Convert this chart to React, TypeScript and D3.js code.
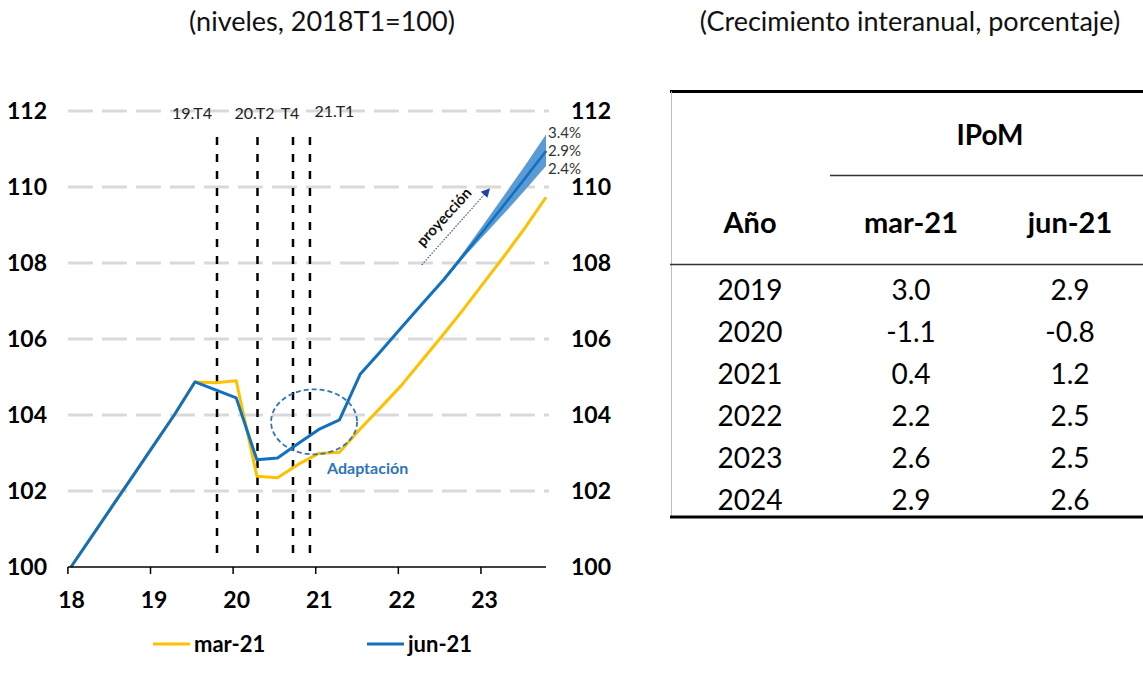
import React from 'react';
import * as d3 from 'd3';

// ---------- data ----------
const periods = [
  '2018T1', '2018T2', '2018T3', '2018T4',
  '2019T1', '2019T2', '2019T3', '2019T4',
  '2020T1', '2020T2', '2020T3', '2020T4',
  '2021T1', '2021T2', '2021T3', '2021T4',
  '2022T1', '2022T2', '2022T3', '2022T4',
  '2023T1', '2023T2', '2023T3', '2023T4',
];
const mar21 = [
  100.0, 100.8, 101.6, 102.4, 103.2, 104.0, 104.87, 104.85,
  104.9, 102.39, 102.35, 102.7, 102.99, 103.02, 103.63, 104.2,
  104.78, 105.44, 106.1, 106.78, 107.49, 108.2, 108.94, 109.73,
];
const jun21 = [
  100.0, 100.8, 101.6, 102.4, 103.2, 104.0, 104.87, 104.66,
  104.45, 102.82, 102.87, 103.25, 103.62, 103.87, 105.07, 105.68,
  106.3, 106.92, 107.53, 108.2, 108.87, 109.55, 110.24, 110.95,
];
const fanPeriods = ['2022T3', '2022T4', '2023T1', '2023T2', '2023T3', '2023T4'];
const fanUpper = [107.53, 108.28, 109.03, 109.8, 110.58, 111.38];
const fanLower = [107.53, 108.14, 108.73, 109.32, 109.93, 110.55];
const fanLabels = ['3.4%', '2.9%', '2.4%'];

const yTicks = [100, 102, 104, 106, 108, 110, 112];
const xTickLabels = ['18', '19', '20', '21', '22', '23'];

const markerLabels = ['19.T4', '20.T2', 'T4', '21.T1'];
const markerPos = [7.07, 9.03, 10.75, 11.57]; // in quarters since 2018T1

const seriesNames = ['mar-21', 'jun-21'];

const tableYears = ['2019', '2020', '2021', '2022', '2023', '2024'];
const tableMar = ['3.0', '-1.1', '0.4', '2.2', '2.6', '2.9'];
const tableJun = ['2.9', '-0.8', '1.2', '2.5', '2.5', '2.6'];

// ---------- styles ----------
const FONT = 'Lato, "Open Sans", sans-serif';
const YELLOW = '#FFC000';
const BLUE = '#1170C0';
const FAN = '#5B9BD5';
const ANNOT_BLUE = '#2E75B6';

export default function App() {
  const W = 1143;
  const H = 692;
  const x = d3.scaleLinear().domain([0, 23]).range([71, 546]);
  const y = d3.scaleLinear().domain([100, 112]).range([567, 111]);
  const idx = (p: string) => periods.indexOf(p);

  const line = d3
    .line<number>()
    .x((_, i) => x(i))
    .y((d) => y(d));

  const fanArea = d3
    .area<number>()
    .x((_, i) => x(idx(fanPeriods[i])))
    .y0((_, i) => y(fanLower[i]))
    .y1((d) => y(d));

  const fanCenter = fanPeriods.map((p) => jun21[idx(p)]);
  const fanLine = d3
    .line<number>()
    .x((_, i) => x(idx(fanPeriods[i])))
    .y((d) => y(d));

  const labelOffsets = [-25, -3, -3, 24.5];
  const labelY = [113, 113, 113, 111];

  // proyección arrow (data coords)
  const a0 = { x: x(16.98), y: y(107.95) };
  const a1 = { x: x(20.29), y: y(109.97) };
  const ang = Math.atan2(a1.y - a0.y, a1.x - a0.x);
  const headLen = 9;
  const headW = 4.5;
  const hx = a1.x - headLen * Math.cos(ang);
  const hy = a1.y - headLen * Math.sin(ang);
  const head = [
    [a1.x, a1.y],
    [hx + headW * Math.sin(ang), hy - headW * Math.cos(ang)],
    [hx - headW * Math.sin(ang), hy + headW * Math.cos(ang)],
  ];

  const xAxisStart = x(-0.15);
  const xAxisEnd = x(23);

  // table layout
  const tLeft = 670;
  const tRight = 1143;
  const colX = [750, 911, 1070];
  const rowY0 = 290;
  const rowStep = 42.1;

  return (
    <div style={{ position: 'absolute', left: 0, top: 0 }}>
      <svg width={W} height={H} style={{ display: 'block', background: '#fff' }} fontFamily={FONT}>
        {/* titles */}
        <text x={322} y={22} textAnchor="middle" dy="0.35em" fontSize={27} fill="#111">
          (niveles, 2018T1=100)
        </text>
        <text x={910} y={22} textAnchor="middle" dy="0.35em" fontSize={27} fill="#111">
          (Crecimiento interanual, porcentaje)
        </text>

        {/* gridlines */}
        {yTicks
          .filter((t) => t > 100)
          .map((t) => (
            <line
              key={'g' + t}
              x1={xAxisStart}
              x2={549}
              y1={y(t)}
              y2={y(t)}
              stroke="#D9D9D9"
              strokeWidth={3}
              strokeDasharray="25,9"
            />
          ))}

        {/* y labels left & right */}
        {yTicks.map((t) => (
          <g key={'yl' + t}>
            <text x={47} y={y(t)} dy="0.35em" textAnchor="end" fontSize={23} fontWeight="bold" fill="#000">
              {t}
            </text>
            <text x={571} y={y(t)} dy="0.35em" textAnchor="start" fontSize={23} fontWeight="bold" fill="#000">
              {t}
            </text>
          </g>
        ))}

        {/* vertical markers */}
        {markerPos.map((m, i) => (
          <g key={'m' + i}>
            <line
              x1={x(m)}
              x2={x(m)}
              y1={137}
              y2={559}
              stroke="#000"
              strokeWidth={2.5}
              strokeDasharray="8,9"
            />
            <text
              x={x(m) + labelOffsets[i]}
              y={labelY[i]}
              dy="0.35em"
              textAnchor="middle"
              fontSize={16}
              fill="#222"
            >
              {markerLabels[i]}
            </text>
          </g>
        ))}

        {/* series */}
        <path d={line(mar21) || ''} fill="none" stroke={YELLOW} strokeWidth={3} strokeLinejoin="round" />
        <path d={line(jun21) || ''} fill="none" stroke={BLUE} strokeWidth={3} strokeLinejoin="round" />
        <path d={fanArea(fanUpper) || ''} fill={FAN} stroke="none" />
        <path d={fanLine(fanCenter) || ''} fill="none" stroke={BLUE} strokeWidth={2.5} />

        {/* fan labels */}
        {fanLabels.map((l, i) => (
          <text key={l} x={548} y={133 + i * 18} dy="0.35em" fontSize={15} fill="#333">
            {l}
          </text>
        ))}

        {/* proyección annotation */}
        <line
          x1={a0.x}
          y1={a0.y}
          x2={hx}
          y2={hy}
          stroke="#2346A8"
          strokeWidth={1.1}
          strokeDasharray="1.5,1.5"
        />
        <polygon points={head.map((p) => p.join(',')).join(' ')} fill="#1F44AA" />
        <text
          transform={`translate(444,217) rotate(-47.6)`}
          textAnchor="middle"
          dy="0.35em"
          fontSize={15}
          fontWeight="bold"
          fill="#111"
        >
          proyección
        </text>

        {/* adaptación */}
        <ellipse
          cx={x(11.77)}
          cy={y(103.82)}
          rx={43}
          ry={32.5}
          fill="none"
          stroke={ANNOT_BLUE}
          strokeWidth={1.8}
          strokeDasharray="5,3"
        />
        <text x={327} y={468} dy="0.35em" fontSize={16} fontWeight="bold" fill={ANNOT_BLUE}>
          Adaptación
        </text>

        {/* x axis */}
        <line x1={xAxisStart} x2={xAxisEnd} y1={567} y2={567} stroke="#000" strokeWidth={1.5} />
        {xTickLabels.map((l, k) => (
          <g key={'xt' + l}>
            <line
              x1={x(4 * k - 0.15)}
              x2={x(4 * k - 0.15)}
              y1={567}
              y2={574}
              stroke="#000"
              strokeWidth={1.5}
            />
            <text x={x(4 * k) + 0.5} y={600} dy="0.35em" textAnchor="middle" fontSize={23} fontWeight="bold" fill="#000">
              {l}
            </text>
          </g>
        ))}

        {/* legend */}
        {seriesNames.map((n, i) => {
          const lx = i === 0 ? 153 : 367;
          return (
            <g key={n}>
              <line x1={lx} x2={lx + 37} y1={644} y2={644} stroke={i === 0 ? YELLOW : BLUE} strokeWidth={3} />
              <text x={lx + 41} y={644} dy="0.35em" fontSize={22} fontWeight="bold" fill="#000">
                {n}
              </text>
            </g>
          );
        })}

        {/* table */}
        <line x1={tLeft} x2={tRight} y1={91.5} y2={91.5} stroke="#000" strokeWidth={3} />
        <line x1={671.5} x2={671.5} y1={91.5} y2={517} stroke="#BFBFBF" strokeWidth={1} />
        <text x={990} y={135} dy="0.35em" textAnchor="middle" fontSize={28} fontWeight="bold" fill="#000">
          IPoM
        </text>
        <line x1={830} x2={tRight} y1={175.5} y2={175.5} stroke="#333" strokeWidth={1.3} />
        <text x={colX[0]} y={223} dy="0.35em" textAnchor="middle" fontSize={29} fontWeight="bold" fill="#000">
          Año
        </text>
        {seriesNames.map((n, i) => (
          <text key={'th' + n} x={colX[i + 1]} y={223} dy="0.35em" textAnchor="middle" fontSize={29} fontWeight="bold" fill="#000">
            {n}
          </text>
        ))}
        <line x1={tLeft} x2={tRight} y1={264.5} y2={264.5} stroke="#333" strokeWidth={1.3} />
        {tableYears.map((yr, r) => (
          <g key={'row' + yr}>
            {[yr, tableMar[r], tableJun[r]].map((v, c) => (
              <text
                key={c}
                x={colX[c]}
                y={rowY0 + r * rowStep}
                dy="0.35em"
                textAnchor="middle"
                fontSize={28}
                fill="#000"
              >
                {v}
              </text>
            ))}
          </g>
        ))}
        <line x1={tLeft} x2={tRight} y1={517} y2={517} stroke="#000" strokeWidth={3} />
      </svg>
    </div>
  );
}
